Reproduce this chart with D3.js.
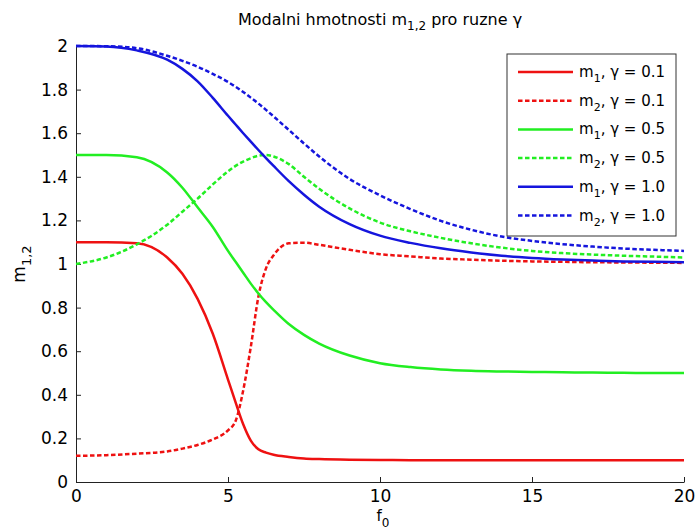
<!DOCTYPE html>
<html lang="en">
<head>
<meta charset="utf-8">
<script src="https://d3js.org/d3.v7.min.js"></script>
<style>
    body { margin: 0; background: white; }
    text { font-family: "DejaVu Sans", Arial, sans-serif; fill: black; }
    .axis path, .axis line { stroke: #222; }
</style>
</head>
<body>
<svg width="695" height="529"></svg>
<script>
// f0 sample points
const fValues = [0, 1, 2, 3, 3.5, 4, 4.5, 5, 5.25, 5.5, 5.75, 6, 6.25, 6.5, 7, 7.5, 8, 9, 10,
                 11, 12, 13, 14, 15, 16, 17, 18, 19, 20];

const m1_g01 = [1.10, 1.10, 1.095, 1.03, 0.955, 0.84, 0.68, 0.47, 0.365, 0.265, 0.19, 0.15, 0.135, 0.125, 0.115, 0.108, 0.105, 0.102, 0.101,
                0.1, 0.1, 0.1, 0.1, 0.1, 0.1, 0.1, 0.1, 0.1, 0.1];
const m2_g01 = [0.12, 0.123, 0.13, 0.14, 0.153, 0.17, 0.195, 0.237, 0.28, 0.42, 0.62, 0.85, 0.98, 1.04, 1.095, 1.098, 1.088, 1.065, 1.045,
                1.035, 1.025, 1.02, 1.015, 1.012, 1.01, 1.008, 1.007, 1.006, 1.005];
const m1_g05 = [1.5, 1.5, 1.49, 1.42, 1.35, 1.26, 1.17, 1.06, 1.01, 0.96, 0.91, 0.865, 0.825, 0.79, 0.725, 0.675, 0.635, 0.58, 0.545,
                0.527, 0.516, 0.51, 0.507, 0.505, 0.503, 0.502, 0.501, 0.5, 0.5];
const m2_g05 = [1.0, 1.03, 1.09, 1.18, 1.24, 1.30, 1.365, 1.425, 1.45, 1.47, 1.485, 1.497, 1.5, 1.493, 1.458, 1.40, 1.345, 1.255, 1.19,
                1.15, 1.12, 1.095, 1.075, 1.06, 1.05, 1.043, 1.038, 1.034, 1.03];
const m1_g10 = [2.0, 1.998, 1.98, 1.937, 1.895, 1.838, 1.762, 1.68, 1.64, 1.60, 1.561, 1.523, 1.486, 1.45, 1.38, 1.318, 1.263, 1.183, 1.13,
                1.097, 1.072, 1.053, 1.038, 1.028, 1.021, 1.016, 1.012, 1.01, 1.008];
const m2_g10 = [2.0, 1.999, 1.99, 1.955, 1.932, 1.905, 1.872, 1.835, 1.813, 1.789, 1.763, 1.736, 1.707, 1.677, 1.615, 1.553, 1.493, 1.39, 1.315,
                1.252, 1.198, 1.157, 1.126, 1.106, 1.091, 1.08, 1.071, 1.065, 1.06];

const xTicks = [0, 5, 10, 15, 20];
const yTicks = [0, 0.2, 0.4, 0.6, 0.8, 1, 1.2, 1.4, 1.6, 1.8, 2];

const red = "#ee1111", green = "#22ee22", blue = "#1515dd";
const series = [
    {m: "1", g: "0.1", values: m1_g01, color: red, dashed: false},
    {m: "2", g: "0.1", values: m2_g01, color: red, dashed: true},
    {m: "1", g: "0.5", values: m1_g05, color: green, dashed: false},
    {m: "2", g: "0.5", values: m2_g05, color: green, dashed: true},
    {m: "1", g: "1.0", values: m1_g10, color: blue, dashed: false},
    {m: "2", g: "1.0", values: m2_g10, color: blue, dashed: true}
];
const dash = "4.5,2.5";

const margin = {top: 46, right: 11, bottom: 47, left: 76};
const width = 695 - margin.left - margin.right;
const height = 529 - margin.top - margin.bottom;

const svg = d3.select("svg")
    .append("g")
    .attr("transform", `translate(${margin.left},${margin.top})`);

const x = d3.scaleLinear().domain([0, 20]).range([0, width]);
const y = d3.scaleLinear().domain([0, 2]).range([height, 0]);

// axes, ticks pointing inward like matlab
svg.append("g")
    .attr("class", "axis")
    .attr("transform", `translate(0,${height})`)
    .call(d3.axisBottom(x).tickValues(xTicks).tickSizeInner(-5).tickSizeOuter(0).tickPadding(8))
    .call(g => g.selectAll("text").style("font-size", "17px"));

svg.append("g")
    .attr("class", "axis")
    .call(d3.axisLeft(y).tickValues(yTicks).tickFormat(d3.format("")).tickSizeInner(-5).tickSizeOuter(0).tickPadding(8))
    .call(g => g.selectAll("text").style("font-size", "17px"));

svg.selectAll(".domain").attr("stroke", "#222");

const line = d3.line()
    .x((d, i) => x(fValues[i]))
    .y(d => y(d))
    .curve(d3.curveMonotoneX);

series.forEach(s => {
    svg.append("path")
        .datum(s.values)
        .attr("fill", "none")
        .attr("stroke", s.color)
        .attr("stroke-width", 2.5)
        .attr("stroke-dasharray", s.dashed ? dash : null)
        .attr("d", line);
});

// title
const title = svg.append("text")
    .attr("x", width / 2)
    .attr("y", -21)
    .attr("text-anchor", "middle")
    .style("font-size", "16px");
title.append("tspan").text("Modalni hmotnosti m");
title.append("tspan").attr("dy", 5).style("font-size", "12px").text("1,2");
title.append("tspan").attr("dy", -5).text(" pro ruzne γ");

// x label
const xl = svg.append("text")
    .attr("x", width / 2 + 3)
    .attr("y", height + 39)
    .attr("text-anchor", "middle")
    .style("font-size", "15px");
xl.append("tspan").text("f");
xl.append("tspan").attr("dy", 6).style("font-size", "12px").text("0");

// y label
const yl = svg.append("text")
    .attr("transform", `translate(${25 - margin.left},${height / 2}) rotate(-90)`)
    .attr("text-anchor", "middle")
    .style("font-size", "17px");
yl.append("tspan").text("m");
yl.append("tspan").attr("dy", 6).style("font-size", "13px").text("1,2");

// legend
const legend = svg.append("g")
    .attr("transform", `translate(${507 - margin.left},${54 - margin.top})`);

legend.append("rect")
    .attr("width", 169)
    .attr("height", 182)
    .attr("fill", "white")
    .attr("stroke", "#333");

series.forEach((s, i) => {
    const yy = 18 + i * 28.7;
    legend.append("line")
        .attr("x1", 11).attr("x2", 66)
        .attr("y1", yy).attr("y2", yy)
        .attr("stroke", s.color)
        .attr("stroke-width", 2.5)
        .attr("stroke-dasharray", s.dashed ? dash : null);
    const t = legend.append("text")
        .attr("x", 72)
        .attr("y", yy + 5)
        .style("font-size", "15px");
    t.append("tspan").text("m");
    t.append("tspan").attr("dy", 5).style("font-size", "11px").text(s.m);
    t.append("tspan").attr("dy", -5).text(", γ = " + s.g);
});
</script>
</body>
</html>
